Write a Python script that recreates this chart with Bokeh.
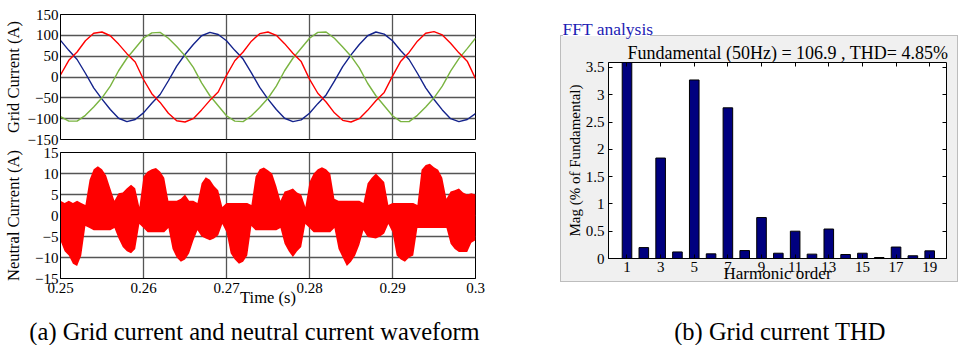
from bokeh.plotting import figure
from bokeh.layouts import row, column
from bokeh.models import Range1d, FixedTicker, Label, LinearAxis, Grid
from bokeh.embed import file_html
from bokeh.resources import INLINE

FONT = "Liberation Serif"

# ---------------- data ----------------
# grid currents, sampled every 1 ms from 0.25 s to 0.30 s
t_grid = [round(0.25 + 0.001 * i, 4) for i in range(51)]
ia_red = [5, 40, 60, 87, 105, 108, 99, 79, 56, 36,
          -6, -40, -61, -87, -105, -108, -100, -79, -56, -36,
          4, 39, 60, 86, 104, 108, 100, 80, 57, 37,
          -5, -39, -60, -86, -104, -108, -100, -80, -57, -37,
          2, 38, 59, 86, 105, 109, 101, 81, 58, 38,
          -4]
ib_blue = [88, 64, 42, 9, -26, -53, -78, -99, -107, -102,
           -86, -63, -42, -9, 26, 54, 78, 99, 107, 102,
           87, 64, 43, 10, -25, -53, -78, -99, -107, -103,
           -87, -64, -43, -10, 25, 53, 78, 99, 108, 103,
           87, 63, 42, 9, -26, -54, -79, -100, -107, -102,
           -88]
ic_green = [-95, -106, -106, -92, -72, -50, -22, 15, 45, 69,
            93, 106, 107, 93, 73, 51, 23, -14, -45, -69,
            -93, -106, -107, -93, -73, -51, -22, 15, 45, 69,
            93, 107, 108, 93, 72, 50, 22, -15, -45, -69,
            -93, -107, -107, -92, -72, -50, -22, 14, 44, 68,
            93]

# neutral current envelope (upper / lower edge of the noisy band), every 0.5 ms
t_neutral = [round(0.25 + 0.0005 * i, 5) for i in range(101)]
in_upper = [3.5, 3, 3.5, 3, 3.5, 3, 2.5, 8.5, 11, 11.7,
            11, 9.5, 6.5, 3.5, 5.3, 5.5, 6.5, 7.3, 6.5, 2,
            9.3, 10.5, 11, 11.3, 10.5, 9, 3.5, 3.5, 3.5, 4,
            5, 3.5, 3.5, 3, 7.7, 9.1, 8.5, 7, 6, 2,
            3, 3, 3, 3, 3, 3, 2.5, 9.3, 11, 11.4,
            10.8, 10, 7, 3.5, 5.7, 6, 6.4, 5.5, 5, 2,
            8, 10, 11, 11.5, 11, 10, 4, 3.5, 3.5, 3.5,
            3.5, 3.5, 3.5, 3, 7.7, 9, 10, 9, 8, 2.5,
            3, 3, 3, 3, 3, 3, 2.5, 10.9, 12, 12.3,
            11.5, 10.9, 9, 4, 5.7, 6, 6.4, 5.5, 5, 5.3,
            5]
in_lower = [-6, -8.5, -9.5, -11.5, -12, -9.5, -2.5, -3, -3.5, -3.5,
            -3.5, -3.5, -3.5, -3, -5.5, -7.5, -8.5, -9, -8, -2,
            -3, -4, -4, -4, -4, -4, -3, -8, -10, -11,
            -10.5, -9, -6, -3.5, -5, -5.5, -5.9, -5.5, -4.7, -2,
            -4, -9, -10.5, -11.5, -11, -9.5, -2.5, -3.5, -3.5, -3.5,
            -3.5, -3.5, -3.5, -3, -6.7, -8.5, -9.9, -8.5, -7.5, -2,
            -3, -4, -4, -4, -4, -4, -3, -8, -10, -12,
            -11, -9.5, -7, -3.5, -5.1, -5.3, -5.5, -5, -4.3, -2,
            -4, -9.5, -10.5, -11, -10, -9.5, -3, -3, -3, -3,
            -3, -3, -3, -3, -6.7, -8, -8.7, -8.7, -8.7, -6.5,
            -5.9]

time_ticks = [0.25, 0.26, 0.27, 0.28, 0.29, 0.30]
time_tick_labels = ["0.25", "0.26", "0.27", "0.28", "0.29", "0.3"]
grid_ticks = [-150, -100, -50, 0, 50, 100, 150]
neutral_ticks = [-15, -10, -5, 0, 5, 10, 15]

harmonic_order = list(range(1, 20))
harmonic_mag = [100, 0.20, 1.84, 0.12, 3.27, 0.085, 2.76, 0.145, 0.75, 0.097,
                0.50, 0.08, 0.54, 0.073, 0.097, 0.018, 0.21, 0.05, 0.14]
fft_xticks = [1, 3, 5, 7, 9, 11, 13, 15, 17, 19]
fft_yticks = [0, 0.5, 1, 1.5, 2, 2.5, 3, 3.5]

RED = "#ff0000"
BLUE = "#14238c"
GREEN = "#7ab441"
BAR = "#00007f"
GRIDC = "#555555"
PANEL = "#f0f0f0"
PANEL_EDGE = "#bdbdbd"


def panel_css(rects):
    """CSS background that paints the grey MATLAB window panel behind a figure."""
    imgs = ", ".join(f"linear-gradient({c}, {c})" for c, x, y, w, h in rects)
    sizes = ", ".join(f"{w}px {h}px" for c, x, y, w, h in rects)
    pos = ", ".join(f"{x}px {y}px" for c, x, y, w, h in rects)
    return {"background-color": "white", "background-image": imgs,
            "background-size": sizes, "background-position": pos,
            "background-repeat": "no-repeat"}


def text_fig(width, height, x0, y0, styles=None):
    kw = {}
    if styles is not None:
        kw["styles"] = styles
    f = figure(width=width, height=height, x_range=Range1d(x0, x0 + width),
               y_range=Range1d(y0 + height, y0), x_axis_location=None, y_axis_location=None,
               output_backend="svg", toolbar_location=None, min_border=0, **kw)
    f.frame_align = False
    f.xgrid.visible = False
    f.ygrid.visible = False
    f.outline_line_color = None
    if styles is None:
        f.background_fill_color = "white"
        f.border_fill_color = "white"
    else:
        f.background_fill_color = None
        f.border_fill_color = None
    return f


def style_left(p, ticks, label, label_standoff):
    p.background_fill_color = "white"
    p.border_fill_color = "white"
    p.outline_line_color = "black"
    p.outline_line_width = 1
    ax = p.yaxis[0]
    ax.ticker = FixedTicker(ticks=ticks)
    ax.major_tick_in = 0
    ax.major_tick_out = 0
    ax.minor_tick_line_color = None
    ax.axis_line_color = "black"
    ax.major_label_text_font = FONT
    ax.major_label_text_font_size = "15px"
    ax.major_label_text_color = "black"
    ax.major_label_standoff = 2
    ax.axis_label = label
    ax.axis_label_text_font = FONT
    ax.axis_label_text_font_size = "16.5px"
    ax.axis_label_text_font_style = "normal"
    ax.axis_label_text_color = "black"
    ax.axis_label_standoff = label_standoff
    p.ygrid.ticker = FixedTicker(ticks=ticks)
    if len(p.xgrid) == 0:
        p.add_layout(Grid(dimension=0, ticker=FixedTicker(ticks=time_ticks)), "center")
    p.xgrid.ticker = FixedTicker(ticks=time_ticks)
    for g in list(p.xgrid) + list(p.ygrid):
        g.grid_line_color = GRIDC
        g.grid_line_width = 1.3


# ---------------- top: grid currents ----------------
top = figure(width=490, height=146, x_range=Range1d(0.25, 0.30), y_range=Range1d(-150, 150),
             x_axis_location=None, output_backend="svg", toolbar_location=None,
             min_border_left=56, min_border_right=15, min_border_top=14, min_border_bottom=7)
style_left(top, grid_ticks, "Grid Current (A)", 2)
top.line(t_grid, ib_blue, line_color=BLUE, line_width=1.4)
top.line(t_grid, ic_green, line_color=GREEN, line_width=1.4)
top.line(t_grid, ia_red, line_color=RED, line_width=1.4)

# ---------------- bottom: neutral current ----------------
bot = figure(width=490, height=164, x_range=Range1d(0.25, 0.30), y_range=Range1d(-15, 15),
             output_backend="svg", toolbar_location=None,
             min_border_left=56, min_border_right=15, min_border_top=6, min_border_bottom=32)
style_left(bot, neutral_ticks, "Neutral Current (A)", 9)
bx = bot.xaxis[0]
bx.ticker = FixedTicker(ticks=time_ticks)
bx.major_label_overrides = {t: s for t, s in zip(time_ticks, time_tick_labels)}
bx.major_tick_in = 0
bx.major_tick_out = 0
bx.minor_tick_line_color = None
bx.major_label_text_font = FONT
bx.major_label_text_font_size = "15px"
bx.major_label_text_color = "black"
bx.major_label_standoff = 4
bx.axis_label = "Time (s)"
bx.axis_label_text_font = FONT
bx.axis_label_text_font_size = "16.5px"
bx.axis_label_text_font_style = "normal"
bx.axis_label_text_color = "black"
bx.axis_label_standoff = -8
bot.varea(x=t_neutral, y1=in_lower, y2=in_upper, fill_color=RED, fill_alpha=1.0)

# ---------------- right: FFT analysis window ----------------
HEAD_H = 40
# heading strip (page y 0..HEAD_H) -- coordinates of this strip are page pixels
head = text_fig(469, HEAD_H, 490, 0, styles=panel_css([
    (PANEL, 71, 36, 396, HEAD_H - 36),
    (PANEL_EDGE, 70, 35, 1, HEAD_H - 35),
    (PANEL_EDGE, 467, 35, 1, HEAD_H - 35),
    (PANEL_EDGE, 70, 35, 3, 1),
    (PANEL_EDGE, 160, 35, 308, 1),
]))
head.add_layout(Label(x=562, y=28.5, text="FFT analysis", text_font=FONT,
                      text_font_size="17.5px", text_color="#1c1cb4",
                      text_align="left", text_baseline="middle"))

FFT_H = 310 - HEAD_H
fft = figure(width=469, height=FFT_H, x_range=Range1d(-0.1, 20.0), y_range=Range1d(0, 3.59),
             output_backend="svg", toolbar_location=None,
             title="Fundamental (50Hz) = 106.9 , THD= 4.85%",
             min_border_left=118, min_border_right=13, min_border_top=0, min_border_bottom=52,
             styles=panel_css([
                 (PANEL, 71, 0, 396, 281 - HEAD_H),
                 (PANEL_EDGE, 70, 0, 1, 282 - HEAD_H),
                 (PANEL_EDGE, 467, 0, 1, 282 - HEAD_H),
                 (PANEL_EDGE, 70, 281 - HEAD_H, 398, 1),
             ]))
fft.frame_align = False
fft.title.text_font = FONT
fft.title.text_font_size = "18px"
fft.title.text_font_style = "normal"
fft.title.text_color = "black"
fft.title.align = "left"
fft.title.offset = 19
fft.title.standoff = 0
fft.title.vertical_align = "bottom"
fft.xgrid.visible = False
fft.ygrid.visible = False
fft.background_fill_color = "white"
fft.border_fill_color = None
fft.outline_line_color = "black"
fft.outline_line_width = 1

fft.vbar(x=harmonic_order, top=harmonic_mag, width=0.57, fill_color=BAR,
         line_color="black", line_width=1)

fx = fft.xaxis[0]
fx.ticker = FixedTicker(ticks=fft_xticks)
fy = fft.yaxis[0]
fy.ticker = FixedTicker(ticks=fft_yticks)
for ax in (fx, fy):
    ax.major_tick_in = 4
    ax.major_tick_out = 0
    ax.minor_tick_line_color = None
    ax.axis_line_color = "black"
    ax.major_label_text_font = FONT
    ax.major_label_text_font_size = "15px"
    ax.major_label_text_color = "black"
    ax.axis_label_text_font = FONT
    ax.axis_label_text_font_style = "normal"
    ax.axis_label_text_color = "black"
fx.major_label_standoff = 3
fy.major_label_standoff = 4
fy.axis_label = "Mag (% of Fundamental)"
fy.axis_label_text_font_size = "15px"
fy.axis_label_standoff = 0
fx.axis_label = "Harmonic order"
fx.axis_label_text_font_size = "17px"
fx.axis_label_standoff = -11

# inward tick marks on the right and top edges of the box (no labels)
for loc, tk in (("right", fft_yticks), ("above", fft_xticks)):
    ax = LinearAxis(ticker=FixedTicker(ticks=tk), major_tick_in=4, major_tick_out=0,
                    minor_tick_line_color=None, axis_line_color=None,
                    major_label_text_font_size="0px", major_label_text_color=None,
                    major_label_standoff=0)
    fft.add_layout(ax, loc)

# ---------------- captions (page y 310..345, page-pixel coordinates) ----------------
cap = text_fig(959, 35, 0, 310)
cap.add_layout(Label(x=254, y=331, text="(a) Grid current and neutral current waveform",
                     text_font=FONT, text_font_size="24.5px", text_color="black",
                     text_align="center", text_baseline="middle"))
cap.add_layout(Label(x=779.5, y=331, text="(b) Grid current THD",
                     text_font=FONT, text_font_size="24.5px", text_color="black",
                     text_align="center", text_baseline="middle"))

layout = column(row(column(top, bot), column(head, fft)), cap)
open("out.html", "w").write(file_html(layout, INLINE))
